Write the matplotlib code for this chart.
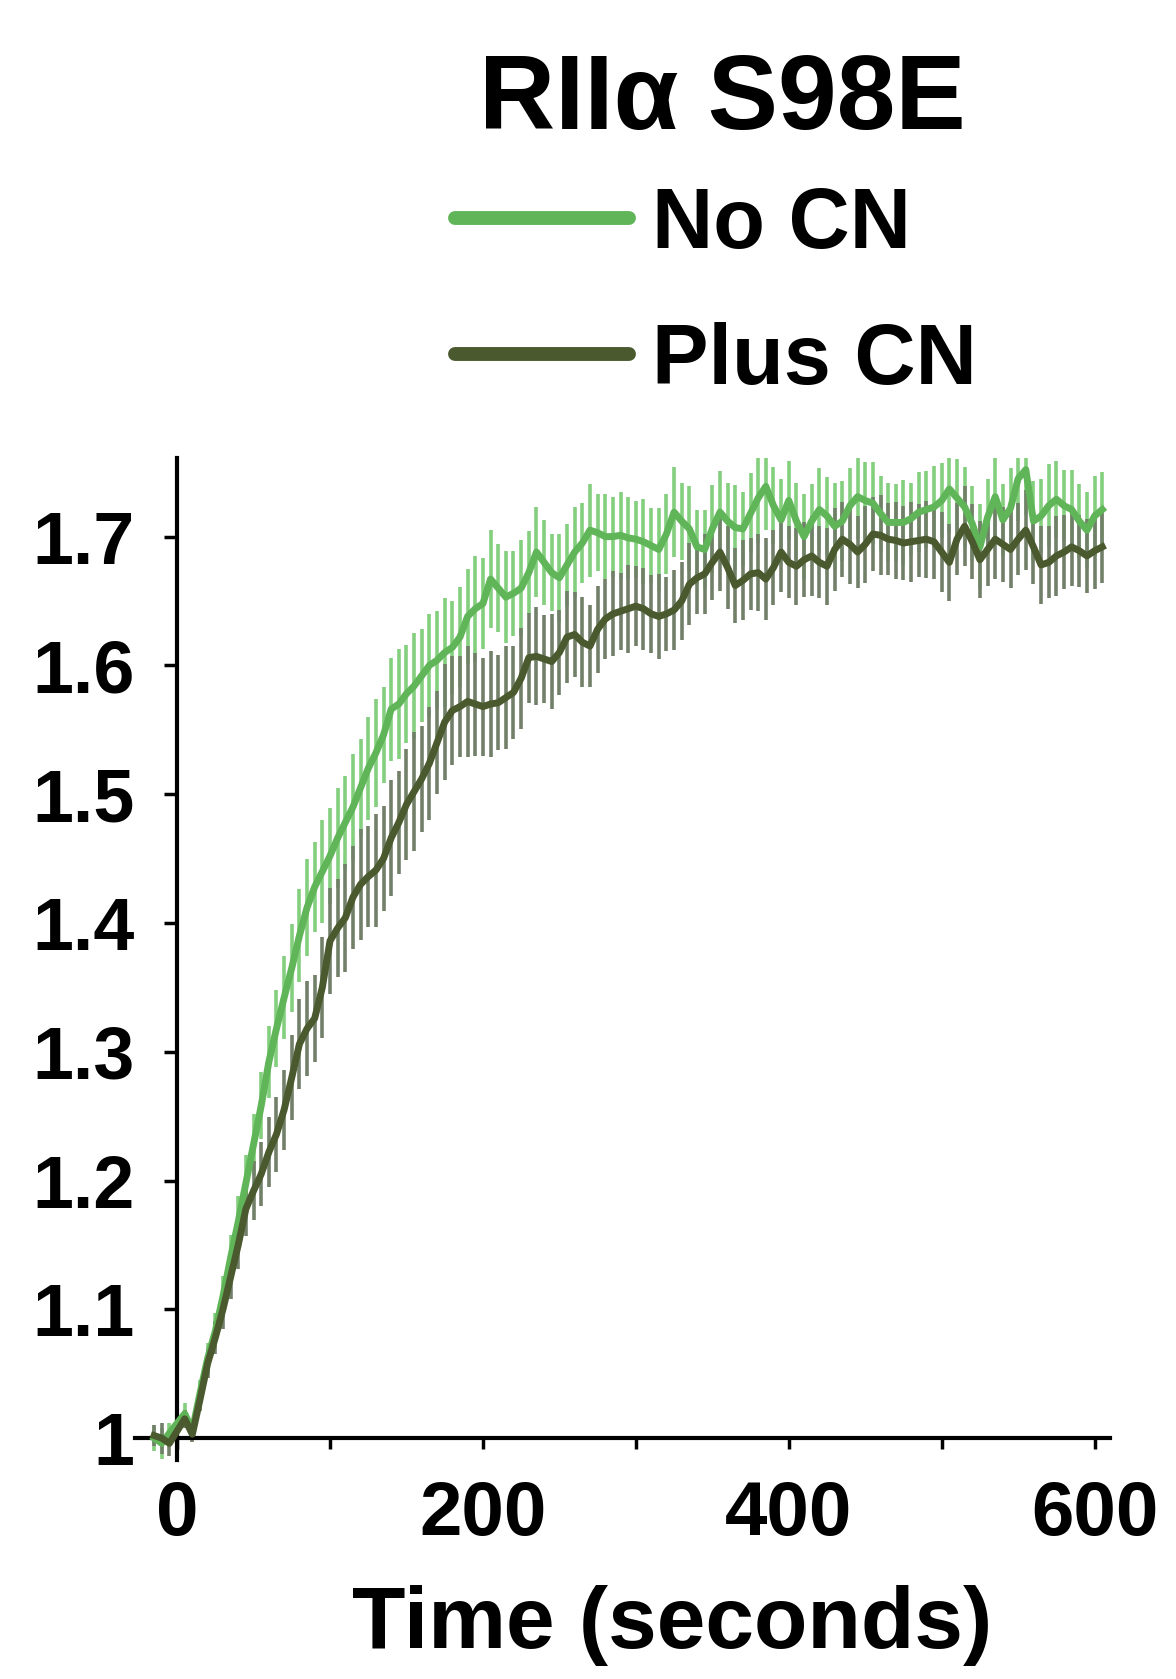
import numpy as np
import matplotlib
matplotlib.use('Agg')
import matplotlib.pyplot as plt
from matplotlib.lines import Line2D

plt.rcParams['font.family'] = ['Liberation Sans', 'DejaVu Sans']
plt.rcParams['font.weight'] = 'bold'

# ---- data ----
title = 'RII\u03b1 S98E'
series_names = ['No CN', 'Plus CN']
xlabel = 'Time (seconds)'

base_time = [-15, -10, -5]
time = np.concatenate([base_time, np.arange(5, 606, 5)])

no_cn_base = [1.000, 0.996, 1.004]
no_cn = [
    1.019, 1.006, 1.035, 1.062, 1.083, 1.110, 1.140, 1.168, 1.198, 1.228,
    1.258, 1.292, 1.318, 1.342, 1.365, 1.390, 1.412, 1.428, 1.440, 1.452,
    1.466, 1.478, 1.490, 1.505, 1.520, 1.532, 1.546, 1.566, 1.570, 1.578,
    1.584, 1.592, 1.600, 1.604, 1.610, 1.614, 1.622, 1.638, 1.644, 1.648,
    1.667, 1.660, 1.653, 1.656, 1.660, 1.672, 1.688, 1.680, 1.672, 1.668,
    1.678, 1.688, 1.695, 1.705, 1.703, 1.700, 1.700, 1.701, 1.699, 1.698,
    1.696, 1.693, 1.690, 1.702, 1.719, 1.712, 1.706, 1.692, 1.690, 1.706,
    1.719, 1.712, 1.707, 1.706, 1.718, 1.730, 1.739, 1.724, 1.713, 1.728,
    1.712, 1.700, 1.712, 1.721, 1.716, 1.708, 1.712, 1.724, 1.731, 1.728,
    1.726, 1.718, 1.711, 1.711, 1.711, 1.714, 1.719, 1.721, 1.723, 1.728,
    1.737, 1.730, 1.723, 1.710, 1.692, 1.715, 1.731, 1.713, 1.722, 1.745,
    1.752, 1.712, 1.716, 1.724, 1.729, 1.724, 1.721, 1.712, 1.705, 1.716,
    1.721]
no_cn_err_base = [0.010, 0.012, 0.008]
no_cn_err = [
    0.008, 0.006, 0.010, 0.012, 0.014, 0.016, 0.018, 0.020, 0.022, 0.024,
    0.026, 0.028, 0.030, 0.032, 0.034, 0.036, 0.038, 0.035, 0.040, 0.037,
    0.039, 0.036, 0.041, 0.038, 0.040, 0.042, 0.037, 0.040, 0.043, 0.038,
    0.041, 0.036, 0.040, 0.038, 0.042, 0.036, 0.039, 0.037, 0.041, 0.035,
    0.038, 0.034, 0.036, 0.033, 0.037, 0.032, 0.035, 0.033, 0.030, 0.034,
    0.032, 0.035, 0.031, 0.036, 0.030, 0.033, 0.031, 0.034, 0.032, 0.030,
    0.033, 0.029, 0.032, 0.031, 0.035, 0.030, 0.033, 0.029, 0.031, 0.034,
    0.032, 0.030, 0.033, 0.029, 0.031, 0.035, 0.034, 0.030, 0.032, 0.031,
    0.030, 0.033, 0.029, 0.032, 0.030, 0.034, 0.031, 0.029, 0.033, 0.030,
    0.032, 0.029, 0.031, 0.030, 0.033, 0.028, 0.031, 0.030, 0.032, 0.029,
    0.034, 0.030, 0.031, 0.029, 0.033, 0.030, 0.032, 0.028, 0.031, 0.033,
    0.035, 0.031, 0.029, 0.032, 0.030, 0.028, 0.031, 0.029, 0.030, 0.031,
    0.029]

plus_cn_base = [1.002, 1.000, 0.996]
plus_cn = [
    1.015, 1.003, 1.030, 1.058, 1.078, 1.100, 1.125, 1.150, 1.178, 1.192,
    1.205, 1.222, 1.236, 1.255, 1.280, 1.306, 1.318, 1.326, 1.350, 1.386,
    1.396, 1.404, 1.420, 1.430, 1.436, 1.441, 1.450, 1.466, 1.478, 1.492,
    1.502, 1.512, 1.524, 1.540, 1.556, 1.565, 1.568, 1.572, 1.570, 1.568,
    1.570, 1.571, 1.575, 1.579, 1.590, 1.606, 1.607, 1.605, 1.603, 1.610,
    1.622, 1.624, 1.618, 1.615, 1.628, 1.636, 1.640, 1.642, 1.644, 1.646,
    1.644, 1.640, 1.638, 1.640, 1.643, 1.650, 1.663, 1.668, 1.671, 1.680,
    1.688, 1.676, 1.662, 1.666, 1.671, 1.672, 1.667, 1.676, 1.688, 1.680,
    1.677, 1.682, 1.685, 1.680, 1.677, 1.690, 1.698, 1.694, 1.688, 1.694,
    1.702, 1.701, 1.698, 1.697, 1.695, 1.696, 1.697, 1.698, 1.696, 1.688,
    1.680, 1.698, 1.708, 1.696, 1.682, 1.690, 1.698, 1.694, 1.690, 1.698,
    1.705, 1.692, 1.678, 1.680, 1.685, 1.688, 1.692, 1.689, 1.685, 1.689,
    1.692]
plus_cn_err_base = [0.008, 0.012, 0.010]
plus_cn_err = [
    0.007, 0.006, 0.009, 0.011, 0.013, 0.015, 0.017, 0.019, 0.021, 0.023,
    0.025, 0.027, 0.029, 0.031, 0.033, 0.035, 0.037, 0.034, 0.039, 0.041,
    0.038, 0.042, 0.040, 0.043, 0.039, 0.044, 0.041, 0.045, 0.040, 0.043,
    0.046, 0.041, 0.044, 0.040, 0.045, 0.042, 0.039, 0.043, 0.040, 0.038,
    0.041, 0.037, 0.040, 0.036, 0.039, 0.035, 0.038, 0.034, 0.037, 0.033,
    0.036, 0.033, 0.035, 0.032, 0.034, 0.031, 0.033, 0.030, 0.034, 0.031,
    0.032, 0.030, 0.033, 0.029, 0.031, 0.030, 0.032, 0.028, 0.031, 0.029,
    0.030, 0.032, 0.029, 0.031, 0.028, 0.030, 0.032, 0.029, 0.031, 0.028,
    0.030, 0.029, 0.031, 0.028, 0.030, 0.032, 0.029, 0.031, 0.028, 0.030,
    0.029, 0.031, 0.028, 0.030, 0.029, 0.031, 0.028, 0.030, 0.029, 0.031,
    0.030, 0.028, 0.031, 0.029, 0.030, 0.028, 0.031, 0.029, 0.030, 0.028,
    0.031, 0.029, 0.030, 0.028, 0.031, 0.029, 0.030, 0.028, 0.029, 0.030,
    0.028]

y_ticks = [1.0, 1.1, 1.2, 1.3, 1.4, 1.5, 1.6, 1.7]
y_ticklabels = ['1', '1.1', '1.2', '1.3', '1.4', '1.5', '1.6', '1.7']
x_ticks = [0, 100, 200, 300, 400, 500, 600]
x_ticklabels = ['0', '', '200', '', '400', '', '600']

# ---- styling ----
line_colors = ['#5fb558', '#4a5a2e']
bar_colors = ['#84cf7e', '#72806a']

fig = plt.figure(figsize=(11.76, 16.79), dpi=100)
ax = fig.add_axes([0.1148, 0.1304, 0.829, 0.5968])

means = [no_cn_base + no_cn, plus_cn_base + plus_cn]
errs = [no_cn_err_base + no_cn_err, plus_cn_err_base + plus_cn_err]

# error bars first, then the mean lines on top
for m, e, bc in zip(means, errs, bar_colors):
    ax.errorbar(time, m, yerr=e, fmt='none', ecolor=bc, elinewidth=2.6,
                capsize=0, zorder=2)
for m, lc in zip(means, line_colors):
    ax.plot(time, m, color=lc, linewidth=5.0, zorder=3)

ax.set_xlim(-27.5, 610)
ax.set_ylim(0.983, 1.761)

for side in ['top', 'right']:
    ax.spines[side].set_visible(False)
ax.spines['left'].set_position(('data', 0))
ax.spines['bottom'].set_position(('data', 1.0))
ax.spines['left'].set_linewidth(3)
ax.spines['bottom'].set_linewidth(3)

ax.set_yticks(y_ticks)
ax.set_yticklabels(y_ticklabels)
ax.set_xticks(x_ticks)
ax.set_xticklabels(x_ticklabels)
ax.tick_params(axis='y', direction='out', length=9.5, width=2.5,
               labelsize=53, pad=21)
ax.tick_params(axis='x', direction='out', length=8, width=2.5,
               labelsize=55, pad=22)
for lab in ax.get_xticklabels() + ax.get_yticklabels():
    lab.set_fontweight('bold')

fig.text(672 / 1176, 1 - 1625 / 1679, xlabel, fontsize=63,
         fontweight='bold', ha='center', va='center')
fig.text(722 / 1176, 1 - 101 / 1679, title, fontsize=76,
         fontweight='bold', ha='center', va='center')

handles = [Line2D([0], [0], color=c, linewidth=10, solid_capstyle='round')
           for c in line_colors]
ax.legend(handles, series_names, loc='upper left',
          bbox_to_anchor=(455 / 1176, 1 - 186 / 1679),
          bbox_transform=fig.transFigure, frameon=False,
          prop={'size': 61, 'weight': 'bold'}, borderpad=0,
          borderaxespad=0, handlelength=2.05, handletextpad=0.28,
          labelspacing=0.66)

fig.savefig('out.png', dpi=100)
